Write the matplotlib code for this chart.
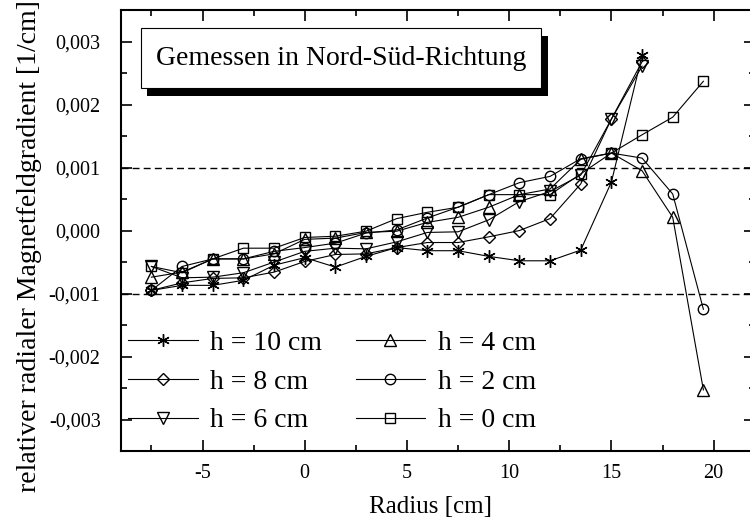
import matplotlib
matplotlib.use("Agg")
import matplotlib.pyplot as plt
from matplotlib.patches import Rectangle
from matplotlib.ticker import MultipleLocator, FuncFormatter

plt.rcParams["font.family"] = ["Liberation Serif", "DejaVu Serif"]
plt.rcParams["axes.unicode_minus"] = False

# radius positions [cm]
radius = [-7.5, -6, -4.5, -3, -1.5, 0, 1.5, 3, 4.5, 6, 7.5, 9,
          10.5, 12, 13.5, 15, 16.5, 18, 19.5]

# relative radial gradient, in units of 1e-3 1/cm
h10 = [-0.95, -0.87, -0.87, -0.79, -0.55, -0.43, -0.58, -0.41, -0.27,
       -0.32, -0.32, -0.41, -0.48, -0.48, -0.31, 0.77, 2.78]
h8 = [-0.95, -0.83, -0.76, -0.75, -0.66, -0.49, -0.38, -0.37, -0.27,
      -0.19, -0.19, -0.10, 0.00, 0.19, 0.74, 1.77, 2.68]
h6 = [-0.57, -0.75, -0.74, -0.67, -0.50, -0.33, -0.28, -0.29, -0.18,
      -0.03, -0.02, 0.17, 0.46, 0.62, 0.88, 1.77, 2.61]
h4 = [-0.74, -0.66, -0.45, -0.45, -0.37, -0.14, -0.12, -0.03, -0.01,
      0.13, 0.21, 0.37, 0.57, 0.66, 1.13, 1.23, 0.95, 0.21, -2.53]
h2 = [-0.95, -0.57, -0.45, -0.45, -0.33, -0.27, -0.20, -0.04, 0.01,
      0.20, 0.37, 0.57, 0.76, 0.86, 1.14, 1.23, 1.15, 0.58, -1.25]
h0 = [-0.57, -0.67, -0.45, -0.28, -0.28, -0.11, -0.09, -0.01, 0.19,
      0.29, 0.37, 0.57, 0.57, 0.57, 0.90, 1.23, 1.52, 1.80, 2.37]

series = [
    ("h = 10 cm", h10, (6, 2, 0), 9),
    ("h = 8 cm", h8, "D", 6),
    ("h = 6 cm", h6, "v", 8),
    ("h = 4 cm", h4, "^", 8),
    ("h = 2 cm", h2, "o", 7.5),
    ("h = 0 cm", h0, "s", 7),
]

fig = plt.figure(figsize=(7.5, 5.3), dpi=100)
ax = fig.add_axes([0.161, 0.149, 0.845, 0.832])

for label, vals, marker, ms in series:
    ax.plot(radius[:len(vals)], [v * 1e-3 for v in vals], color="black",
            lw=0.8, marker=marker, ms=ms, mfc="none", mec="black", mew=1.0,
            label=label)

ax.axhline(0.001, color="black", lw=1.0, ls=(0, (5, 3)))
ax.axhline(-0.001, color="black", lw=1.0, ls=(0, (5, 3)))

ax.set_xlim(-9, 22)
ax.set_ylim(-0.0035, 0.0035)
ax.xaxis.set_major_locator(MultipleLocator(5))
ax.xaxis.set_minor_locator(MultipleLocator(2.5))
ax.yaxis.set_major_locator(MultipleLocator(0.001))
ax.yaxis.set_minor_locator(MultipleLocator(0.0005))


def comma_fmt(v, pos):
    s = f"{v:.3f}".replace(".", ",")
    return "0,000" if s == "-0,000" else s


ax.yaxis.set_major_formatter(FuncFormatter(comma_fmt))
ax.xaxis.set_major_formatter(FuncFormatter(lambda v, pos: f"{v:g}"))
ax.tick_params(which="both", direction="in", top=True, right=True,
               labelsize=14.5, width=1.2)
ax.tick_params(axis="y", pad=14.5)
ax.tick_params(axis="x", pad=9)
ax.tick_params(which="major", length=8)
ax.tick_params(which="minor", length=4)
for sp in ax.spines.values():
    sp.set_linewidth(1.5)

ax.set_xlabel("Radius [cm]", fontsize=18)
ax.set_ylabel("relativer radialer Magnetfeldgradient [1/cm]", fontsize=20)
ax.xaxis.set_label_coords(0.4895, -0.102)
ax.yaxis.set_label_coords(-0.125, 0.465)

# title box with drop shadow
ax.add_patch(Rectangle((0.042, 0.805), 0.632, 0.136, transform=ax.transAxes,
                       facecolor="black", edgecolor="none", zorder=5))
ax.add_patch(Rectangle((0.0316, 0.823), 0.632, 0.136, transform=ax.transAxes,
                       facecolor="white", edgecolor="black", lw=0.8, zorder=6))
ax.text(0.348, 0.891, "Gemessen in Nord-Süd-Richtung", transform=ax.transAxes,
        ha="center", va="center", fontsize=20, zorder=7)

ax.legend(ncol=2, frameon=False, loc="lower left",
          bbox_to_anchor=(0.012, 0.04), fontsize=20, numpoints=1,
          handlelength=2.5, handletextpad=0.45, columnspacing=1.2,
          labelspacing=0.48, borderpad=0, borderaxespad=0)

fig.savefig("out.png", dpi=100)
